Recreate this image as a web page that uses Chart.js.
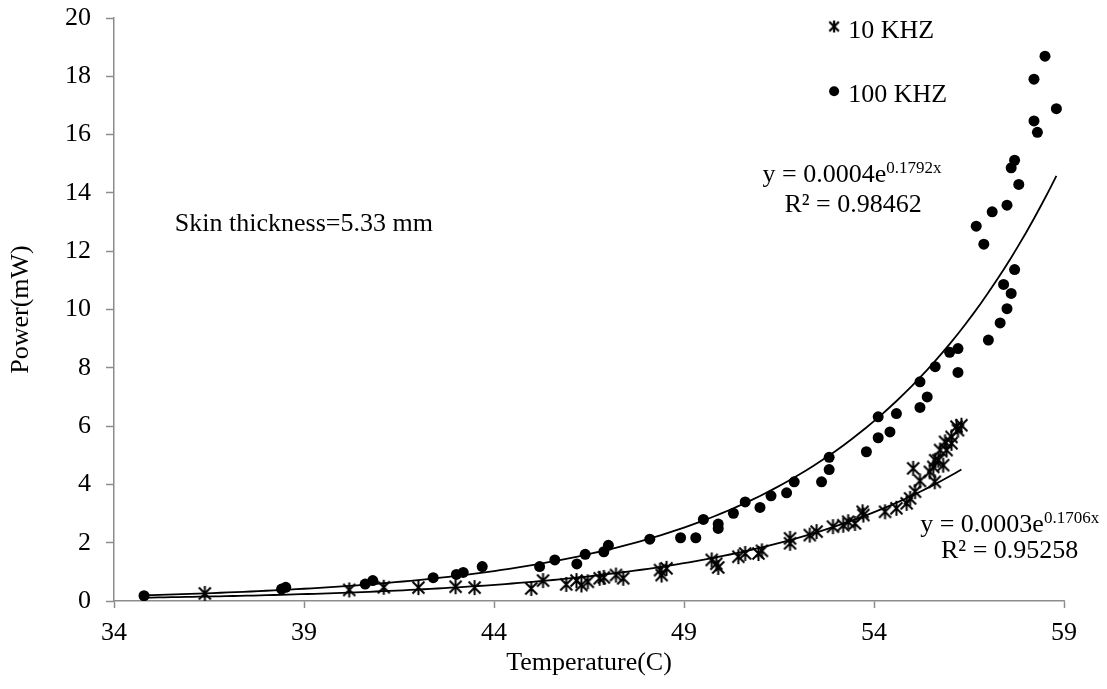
<!DOCTYPE html>
<html>
<head>
<meta charset="utf-8">
<script src="https://cdn.jsdelivr.net/npm/chart.js@4.4.1/dist/chart.umd.min.js"></script>
<style>
  html, body { margin: 0; padding: 0; background: #fff; }
  #wrap { width: 1107px; height: 689px; }
</style>
</head>
<body>
<div id="wrap"><canvas id="powerChart" width="1107" height="689"></canvas></div>
<script>
// 10 KHZ measurements (asterisks)
const temp10 = [36.39, 40.19, 41.10, 42.01, 42.99, 43.49, 44.98, 45.29, 45.90, 46.17,
    46.30, 46.47, 46.78, 46.89, 47.21, 47.40, 48.37, 48.41, 48.54, 49.73,
    49.85, 49.90, 50.43, 50.61, 50.96, 51.05, 51.79, 51.79, 52.31, 52.49,
    52.92, 53.19, 53.32, 53.50, 53.70, 53.72, 54.29, 54.59, 54.86, 54.95,
    55.08, 55.03, 55.21, 55.47, 55.60, 55.56, 55.61, 55.69, 55.74, 55.82,
    55.87, 55.91, 56.04, 56.04, 56.17, 56.21, 56.30];
const power10 = [0.26, 0.38, 0.47, 0.46, 0.49, 0.46, 0.43, 0.70, 0.57, 0.70,
    0.55, 0.66, 0.78, 0.81, 0.89, 0.78, 1.06, 0.89, 1.12, 1.41,
    1.28, 1.15, 1.52, 1.63, 1.63, 1.72, 1.98, 2.15, 2.26, 2.38,
    2.55, 2.60, 2.72, 2.66, 3.06, 2.95, 3.06, 3.18, 3.35, 3.52,
    3.75, 4.55, 4.12, 4.43, 4.09, 4.60, 4.83, 4.83, 5.18, 4.66,
    5.46, 5.18, 5.41, 5.63, 5.98, 5.86, 6.03];

// 100 KHZ measurements (dots)
const temp100 = [34.79, 38.41, 38.52, 40.61, 40.81, 42.40, 43.01, 43.19, 43.69, 45.20,
    45.60, 46.18, 46.40, 46.89, 47.01, 48.10, 48.91, 49.31, 49.51, 49.90,
    49.90, 50.30, 50.61, 51.00, 51.29, 51.70, 51.90, 52.62, 52.82, 52.82,
    53.80, 54.11, 54.11, 54.42, 54.59, 55.21, 55.21, 55.40, 55.61, 55.99,
    56.21, 56.21, 56.69, 56.89, 57.01, 57.11, 57.32, 57.41, 57.50, 57.50,
    57.61, 57.61, 57.70, 57.70, 57.81, 58.21, 58.21, 58.30, 58.50, 58.80];
const power100 = [0.18, 0.41, 0.47, 0.58, 0.70, 0.80, 0.91, 0.98, 1.18, 1.18,
    1.41, 1.27, 1.60, 1.69, 1.91, 2.12, 2.17, 2.17, 2.80, 2.64,
    2.49, 3.01, 3.40, 3.21, 3.61, 3.71, 4.09, 4.09, 4.51, 4.93,
    5.12, 5.60, 6.32, 5.80, 6.43, 6.64, 7.52, 7.00, 8.04, 8.53,
    8.66, 7.84, 12.86, 12.24, 8.95, 13.35, 9.54, 10.86, 10.03, 13.58,
    10.55, 14.86, 11.37, 15.12, 14.29, 17.90, 16.47, 16.08, 18.69, 16.89];

// exponential trendlines y = a * e^(b x); the labels print a rounded,
// the drawn curve follows the unrounded value
const fit10 = { a: 0.000304, b: 0.1706, from: 34.8, to: 56.3 };
const fit100 = { a: 0.000387, b: 0.1792, from: 34.8, to: 58.8 };

const xTicks = [34, 39, 44, 49, 54, 59];
const yTicks = [0, 2, 4, 6, 8, 10, 12, 14, 16, 18, 20];

const FONT = "'Liberation Serif', 'Times New Roman', serif";
const AXIS_GRAY = '#8c8c8c';

function toPoints(xs, ys) {
    return xs.map((x, i) => ({ x: x, y: ys[i] }));
}

function trendPoints(fit) {
    const pts = [];
    const n = 120;
    for (let i = 0; i <= n; i++) {
        const x = fit.from + (fit.to - fit.from) * i / n;
        pts.push({ x: x, y: fit.a * Math.exp(fit.b * x) });
    }
    return pts;
}

// asterisk marker like the one Excel uses
function makeAsterisk(size, lw) {
    const c = document.createElement('canvas');
    c.width = size;
    c.height = size;
    const g = c.getContext('2d');
    const m = size / 2, r = size / 2 - 1, d = r * 0.8;
    g.strokeStyle = '#000';
    g.lineWidth = lw;
    g.lineCap = 'butt';
    g.beginPath();
    g.moveTo(m, m - r); g.lineTo(m, m + r);
    g.moveTo(m - d, m - d); g.lineTo(m + d, m + d);
    g.moveTo(m + d, m - d); g.lineTo(m - d, m + d);
    g.stroke();
    return c;
}
const starMark = makeAsterisk(17, 2);
const legendStar = makeAsterisk(14, 2.2);

// text overlays: legend, equations, caption
const overlayPlugin = {
    id: 'overlay',
    afterDraw(chart) {
        const ctx = chart.ctx;
        const xs = chart.scales.x, ys = chart.scales.y;
        const px = v => xs.getPixelForValue(v);
        const py = v => ys.getPixelForValue(v);
        ctx.save();
        ctx.fillStyle = '#000';
        ctx.textBaseline = 'alphabetic';

        // legend
        ctx.drawImage(legendStar, px(52.95) - 7, py(19.71) - 7);
        ctx.beginPath();
        ctx.arc(px(52.95), py(17.49), 5, 0, Math.PI * 2);
        ctx.fill();
        ctx.font = '26px ' + FONT;
        ctx.textAlign = 'left';
        ctx.fillText('10 KHZ', px(53.32), py(19.33));
        ctx.fillText('100 KHZ', px(53.32), py(17.12));

        // caption
        ctx.fillText('Skin thickness=5.33 mm', px(35.6), py(12.68));

        // equations, centred like Excel data labels
        function equation(a, b, cx, base) {
            const main = 'y = ' + a + 'e';
            const sup = b + 'x';
            ctx.font = '26px ' + FONT;
            const w1 = ctx.measureText(main).width;
            ctx.font = '17px ' + FONT;
            const w2 = ctx.measureText(sup).width;
            const left = px(cx) - (w1 + w2) / 2;
            ctx.font = '26px ' + FONT;
            ctx.textAlign = 'left';
            ctx.fillText(main, left, py(base));
            ctx.font = '17px ' + FONT;
            ctx.fillText(sup, left + w1, py(base) - 9);
        }
        function rsq(text, cx, base) {
            ctx.font = '26px ' + FONT;
            ctx.textAlign = 'center';
            ctx.fillText(text, px(cx), py(base));
        }
        equation('0.0004', '0.1792', 53.42, 14.37);
        rsq('R\u00b2 = 0.98462', 53.45, 13.35);
        equation('0.0003', '0.1706', 57.57, 2.38);
        rsq('R\u00b2 = 0.95258', 57.57, 1.47);
        ctx.restore();
    }
};

const ctx = document.getElementById('powerChart').getContext('2d');
const powerChart = new Chart(ctx, {
    type: 'scatter',
    data: {
        datasets: [
            {
                label: 'trend 100',
                data: trendPoints(fit100),
                showLine: true,
                borderColor: '#000',
                borderWidth: 1.8,
                pointRadius: 0,
                tension: 0,
                order: 1
            },
            {
                label: 'trend 10',
                data: trendPoints(fit10),
                showLine: true,
                borderColor: '#000',
                borderWidth: 1.8,
                pointRadius: 0,
                tension: 0,
                order: 2
            },
            {
                label: '100 KHZ',
                data: toPoints(temp100, power100),
                pointStyle: 'circle',
                pointRadius: 5.5,
                backgroundColor: '#000',
                borderColor: '#000',
                borderWidth: 0,
                order: 3
            },
            {
                label: '10 KHZ',
                data: toPoints(temp10, power10),
                pointStyle: starMark,
                pointRadius: 8,
                backgroundColor: '#000',
                borderColor: '#000',
                order: 4
            }
        ]
    },
    options: {
        responsive: false,
        animation: false,
        devicePixelRatio: 1,
        layout: { padding: { left: 0, top: 0, right: 43, bottom: 0 } },
        plugins: {
            legend: { display: false },
            tooltip: { enabled: false }
        },
        scales: {
            x: {
                type: 'linear',
                min: 34,
                max: 59,
                afterBuildTicks: s => { s.ticks = xTicks.map(v => ({ value: v })); },
                afterFit: s => { s.height = 88; },
                grid: { drawOnChartArea: false, tickLength: 7, tickColor: AXIS_GRAY, tickWidth: 1.5 },
                border: { color: AXIS_GRAY, width: 1.5 },
                ticks: { color: '#000', font: { family: FONT, size: 26 }, padding: 10, maxRotation: 0 },
                title: {
                    display: true,
                    text: 'Temperature(C)',
                    color: '#000',
                    font: { family: FONT, size: 26 },
                    padding: { top: 0, bottom: 10 }
                }
            },
            y: {
                type: 'linear',
                min: 0,
                max: 20,
                afterBuildTicks: s => { s.ticks = yTicks.map(v => ({ value: v })); },
                afterFit: s => { s.width = 114; s.paddingTop = 18; s.paddingBottom = 0; },
                grid: { drawOnChartArea: false, tickLength: 8, tickColor: AXIS_GRAY, tickWidth: 1.5 },
                border: { color: AXIS_GRAY, width: 1.5 },
                ticks: { color: '#000', font: { family: FONT, size: 26 }, padding: 15 },
                title: {
                    display: true,
                    text: 'Power(mW)',
                    color: '#000',
                    font: { family: FONT, size: 26 },
                    padding: { top: 6, bottom: 0 }
                }
            }
        }
    },
    plugins: [overlayPlugin]
});
</script>
</body>
</html>
